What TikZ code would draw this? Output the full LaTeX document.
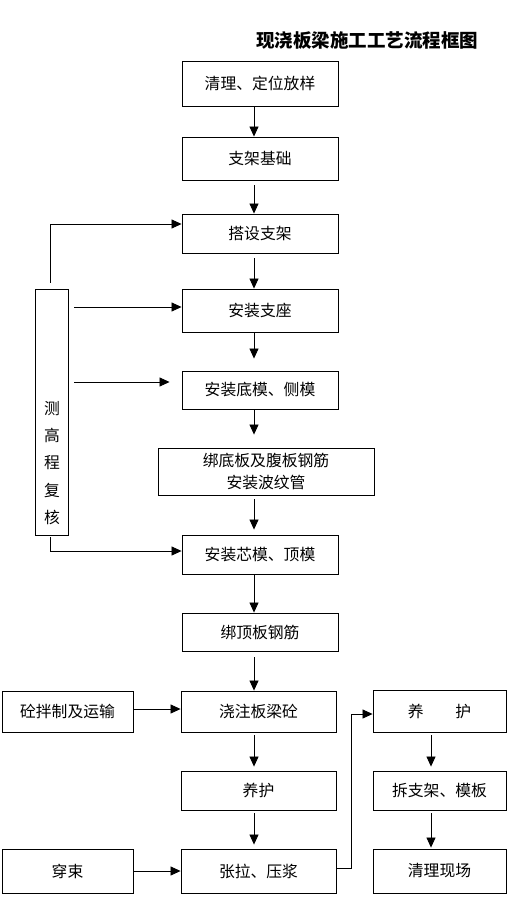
\documentclass[tikz,border=0pt]{standalone}
\usepackage{fontspec}
\newfontfamily\cjk{Noto Sans CJK SC}
\usetikzlibrary{arrows.meta,calc}
\tikzset{
  box/.style 2 args={draw=black, line width=0.9pt, fill=white, minimum width=#1pt, minimum height=#2pt, inner sep=0pt, align=center},
  arr/.style={-{Triangle[length=10pt,width=9pt]}, line width=0.8pt},
  txt/.style={font=\cjk\fontsize{15.8}{21}\selectfont},
  ttl/.style={font=\cjk\bfseries\fontsize{18.5}{22}\selectfont}
}
\begin{document}
\begin{tikzpicture}[x=1pt,y=-1pt,every node/.style={txt}]
\useasboundingbox[fill=white] (0,0) rectangle (527,901);
\node[ttl] (title) at (367,40) {现浇板梁施工工艺流程框图};
% main column
\node[box={156}{45}] (b1) at (260,83.5) {清理、定位放样};
\node[box={156}{43}] (b2) at (260,158.5) {支架基础};
\node[box={156}{39}] (b3) at (260,233.5) {搭设支架};
\node[box={156}{43}] (b4) at (260,310.5) {安装支座};
\node[box={156}{38}] (b5) at (260,390) {安装底模、侧模};
\node[box={216}{47}] (b6) at (266,471.5) {绑底板及腹板钢筋\\安装波纹管};
\node[box={156}{39}] (b7) at (260,554.5) {安装芯模、顶模};
\node[box={156}{38}] (b8) at (260,632) {绑顶板钢筋};
\node[box={155}{41}] (b9) at (258.5,711.5) {浇注板梁砼};
\node[box={155}{39}] (b10) at (258.5,790.5) {养护};
\node[box={155}{44}] (b11) at (258.5,871) {张拉、压浆};
% left
\node[box={131}{41}] (L1) at (67.5,711.5) {砼拌制及运输};
\node[box={131}{44}] (L2) at (67.5,871) {穿束};
% right
\node[box={133}{42}] (R1) at (439.5,711) {养　　护};
\node[box={133}{39}] (R2) at (439.5,790.5) {拆支架、模板};
\node[box={133}{44}] (R3) at (439.5,871) {清理现场};
% side box
\node[box={33}{246}] (side) at (51.5,412) {};
\node[txt, align=center, font=\cjk\fontsize{15.8}{27.2}\selectfont] (sidetxt) at (52,463) {测\\高\\程\\复\\核};
% coordinates
\coordinate (mx) at (254,0);
\coordinate (rx) at (431,0);
\coordinate (sx) at (50,0);
\coordinate (sx2) at (74,0);
\coordinate (vx) at (351,0);
% main arrows
\draw[arr] (b1.south -| mx) -- (b2.north -| mx);
\draw[arr,shorten <=5pt] (b2.south -| mx) -- (b3.north -| mx);
\draw[arr,shorten <=5pt] (b3.south -| mx) -- (b4.north -| mx);
\draw[arr,shorten >=12pt] (b4.south -| mx) -- (b5.north -| mx);
\draw[arr,shorten >=13pt] (b5.south -| mx) -- (b6.north -| mx);
\draw[arr,shorten <=4pt,shorten >=5pt] (b6.south -| mx) -- (b7.north -| mx);
\draw[arr] (b7.south -| mx) -- (b8.north -| mx);
\draw[arr,shorten <=6pt] (b8.south -| mx) -- (b9.north -| mx);
\draw[arr,shorten <=3pt,shorten >=4pt] (b9.south -| mx) -- (b10.north -| mx);
\draw[arr,shorten <=3pt,shorten >=4pt] (b10.south -| mx) -- (b11.north -| mx);
% right arrows
\draw[arr,shorten <=3pt,shorten >=4pt] (R1.south -| rx) -- (R2.north -| rx);
\draw[arr,shorten <=3pt,shorten >=1pt] (R2.south -| rx) -- (R3.north -| rx);
% side arrows
\coordinate (a3) at ($(b3.west)+(0,-9.5)$);
\coordinate (a4) at ($(b4.west)+(0,-3.5)$);
\coordinate (a5) at ($(b5.west)+(0,-8)$);
\coordinate (a7) at ($(b7.west)+(0,-3.5)$);
\draw[arr,shorten <=6pt] (side.north -| sx) |- (a3);
\draw[arr] (a4 -| sx2) -- (a4);
\draw[arr,shorten >=12pt] (a5 -| sx2) -- (a5);
\draw[arr,shorten <=2pt] (side.south -| sx) |- (a7);
% left arrows
\coordinate (a9) at ($(b9.west)+(0,-2.5)$);
\draw[arr] (L1.east |- a9) -- (a9);
\draw[arr] (L2.east) -- (b11.west);
% to right column
\coordinate (c1) at ($(b11.east)+(0,-3)$);
\coordinate (c2) at ($(R1.west)+(0,3)$);
\draw[arr] (c1) -- (c1 -| vx) |- (c2);
\end{tikzpicture}
\end{document}
